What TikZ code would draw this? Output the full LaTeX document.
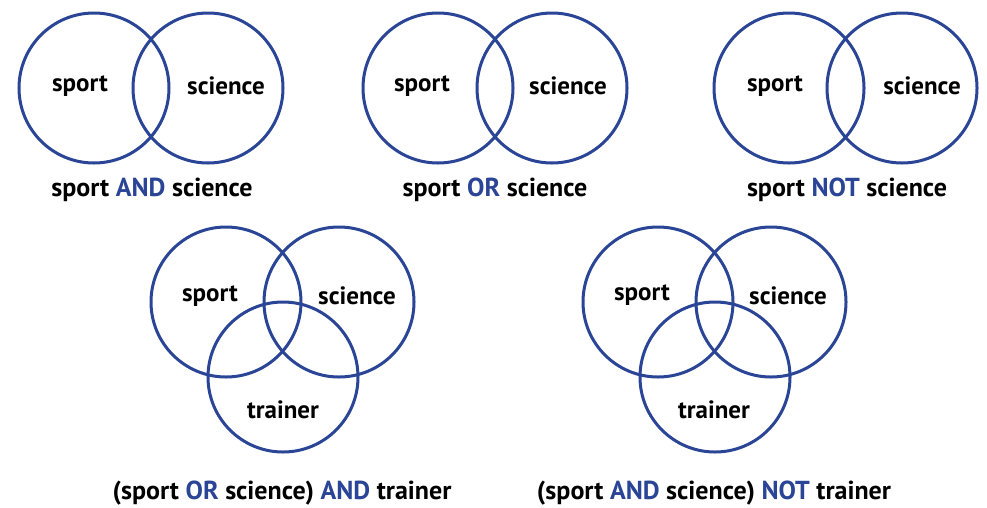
\documentclass[tikz,border=0pt]{standalone}
\usepackage{fontspec}
\setmainfont{PT Sans}
\definecolor{vennblue}{RGB}{42,68,150}
\newcommand{\op}[1]{\textcolor{vennblue}{#1}}

\begin{document}
\begin{tikzpicture}[x=1pt,y=-1pt,
    set/.style={draw=vennblue,line width=3pt},
    lbl/.style={font=\fontsize{25}{27}\selectfont\bfseries},
    caption/.style={font=\fontsize{26}{28}\selectfont\bfseries}]
   \useasboundingbox (0,0) rectangle (987,507);
   % sport AND science
   \draw[set] (94,88) circle (75);
   \draw[set] (208,88) circle (75);
   \node[lbl] (sportA) at (80,86) {sport};
   \node[lbl] (scienceA) at (226,86) {science};
   \node[caption] (capA) at (152,190) {sport \op{AND} science};
   % sport OR science
   \draw[set] (438,88) circle (75);
   \draw[set] (552,88) circle (75);
   \node[lbl] (sportB) at (422,86) {sport};
   \node[lbl] (scienceB) at (568,86) {science};
   \node[caption] (capB) at (495,190) {sport \op{OR} science};
   % sport NOT science
   \draw[set] (789,88) circle (75);
   \draw[set] (902,88) circle (75);
   \node[lbl] (sportC) at (775,86) {sport};
   \node[lbl] (scienceC) at (922,86) {science};
   \node[caption] (capC) at (847,190) {sport \op{NOT} science};
   % (sport OR science) AND trainer
   \draw[set] (226,302) circle (75);
   \draw[set] (339,302) circle (75);
   \draw[set] (283,377) circle (75);
   \node[lbl] (sportD) at (210,296) {sport};
   \node[lbl] (scienceD) at (357,296) {science};
   \node[lbl] (trainerD) at (283,410) {trainer};
   \node[caption] (capD) at (282,493) {(sport \op{OR} science) \op{AND} trainer};
   % (sport AND science) NOT trainer
   \draw[set] (658,302) circle (75);
   \draw[set] (771,302) circle (75);
   \draw[set] (715,377) circle (75);
   \node[lbl] (sportE) at (642,295) {sport};
   \node[lbl] (scienceE) at (788,296) {science};
   \node[lbl] (trainerE) at (714,410) {trainer};
   \node[caption] (capE) at (714,493) {(sport \op{AND} science) \op{NOT} trainer};
  \end{tikzpicture}
\end{document}
